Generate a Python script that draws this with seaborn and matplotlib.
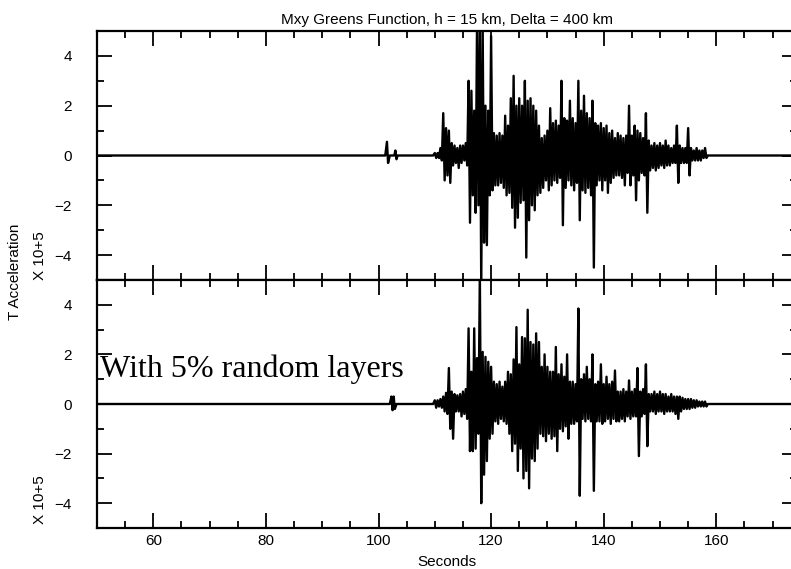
import numpy as np
import pandas as pd
import matplotlib.pyplot as plt
from matplotlib.ticker import MultipleLocator
import seaborn as sns

# Valori (ampiezza x 10^5), picchi alternati ogni 0.5 s
t_start, t_step = 110.0, 0.5

top_up = [0.1, 0.1, 0.3, 1.7, 1.1, 1.0, 0.5, 0.4, 0.3, 0.4,
          0.4, 0.5, 3.0, 2.6, 1.8, 5.3, 5.3, 5.3, 2.0, 1.8,
          4.8, 0.9, 0.8, 0.9, 0.8, 1.6, 1.2, 2.3, 3.2, 2.0,
          2.3, 2.0, 3.0, 2.2, 2.3, 2.0, 1.8, 1.2, 0.7, 0.8,
          1.0, 1.9, 1.3, 1.4, 1.2, 3.0, 1.5, 1.4, 2.2, 1.5,
          1.3, 3.0, 1.8, 2.4, 1.7, 1.5, 2.2, 1.3, 1.2, 1.3,
          1.1, 1.2, 0.9, 1.0, 0.7, 0.9, 0.8, 0.7, 0.8, 2.0,
          0.8, 1.2, 1.0, 0.9, 0.7, 1.7, 0.6, 0.4, 0.5, 0.4,
          0.5, 0.4, 0.6, 0.4, 0.3, 0.4, 1.2, 0.4, 0.3, 0.3,
          1.1, 0.3, 0.2, 0.3, 0.2, 0.2, 0.3]
top_dn = [-0.1, -0.1, -0.2, -1.0, -0.8, -1.1, -0.4, -0.3, -0.5, -0.3,
          -0.2, -0.4, -2.7, -1.6, -2.3, -2.0, -5.3, -3.5, -3.6, -1.6,
          -1.4, -1.2, -1.2, -1.1, -1.3, -1.6, -1.5, -2.1, -2.9, -2.5,
          -1.9, -1.8, -4.1, -2.6, -2.0, -2.2, -1.6, -1.5, -1.3, -1.0,
          -1.4, -1.2, -1.0, -1.1, -0.9, -2.8, -1.3, -1.0, -1.2, -1.4,
          -1.1, -2.6, -1.4, -1.5, -1.3, -1.6, -4.5, -1.2, -1.0, -1.4,
          -1.0, -1.5, -1.1, -0.9, -0.8, -0.8, -0.9, -1.2, -0.7, -1.2,
          -0.8, -1.8, -1.0, -0.7, -0.8, -2.3, -0.6, -0.5, -0.6, -0.5,
          -0.4, -0.5, -0.4, -0.4, -0.3, -0.3, -1.1, -0.3, -0.3, -0.3,
          -0.8, -0.2, -0.2, -0.2, -0.2, -0.1, -0.1]

bot_up = [0.15, 0.15, 0.2, 0.3, 0.45, 1.45, 0.5, 0.4, 0.35, 0.4,
          0.5, 0.6, 3.05, 1.3, 3.05, 1.85, 5.3, 2.1, 1.9, 1.7,
          1.5, 0.9, 0.8, 0.9, 0.7, 0.9, 1.3, 1.2, 1.8, 3.1,
          1.6, 2.7, 2.65, 3.8, 2.5, 2.4, 2.85, 2.5, 1.5, 2.0,
          1.5, 1.3, 1.3, 2.3, 1.2, 1.6, 1.1, 2.0, 0.9, 0.9,
          0.8, 3.85, 1.0, 1.2, 1.5, 1.0, 2.0, 0.8, 0.9, 1.6,
          0.8, 1.1, 0.8, 0.9, 1.35, 0.5, 0.5, 0.6, 0.5, 0.95,
          0.5, 0.6, 1.45, 0.5, 0.6, 1.6, 0.4, 0.4, 0.5, 0.4,
          0.5, 0.4, 0.4, 0.3, 0.4, 0.3, 0.3, 0.3, 0.25, 0.2,
          0.2, 0.2, 0.15, 0.15, 0.1, 0.1, 0.1]
bot_dn = [-0.15, -0.1, -0.15, -0.3, -0.4, -1.0, -1.4, -0.3, -0.3, -0.5,
          -0.4, -0.6, -1.9, -1.9, -1.8, -1.2, -4.0, -2.85, -2.3, -1.4,
          -1.2, -0.7, -0.8, -0.6, -0.7, -0.8, -1.2, -1.9, -1.6, -2.7,
          -1.8, -3.0, -2.7, -3.4, -2.2, -2.3, -1.8, -1.2, -1.3, -1.5,
          -1.2, -1.4, -1.3, -1.9, -1.0, -1.1, -0.9, -1.4, -0.8, -0.8,
          -0.7, -3.7, -0.6, -0.7, -0.6, -0.7, -3.5, -0.7, -0.7, -0.8,
          -0.7, -0.6, -0.8, -0.6, -0.7, -0.7, -0.6, -0.7, -0.5, -0.6,
          -0.5, -0.5, -2.1, -0.5, -0.4, -1.7, -0.3, -0.3, -0.4, -0.3,
          -0.3, -0.4, -0.3, -0.3, -0.3, -0.4, -0.6, -0.3, -0.2, -0.2,
          -0.2, -0.15, -0.15, -0.1, -0.1, -0.1, -0.1]

# tratti quieti prima e dopo l'arrivo
top_pre_t = [50.0, 101.2, 101.5, 101.7, 102.0, 102.8, 103.0, 103.2, 103.4, 109.7]
top_pre_v = [0.0, 0.0, 0.55, -0.3, 0.0, 0.0, 0.2, -0.15, 0.0, 0.0]
bot_pre_t = [50.0, 102.0, 102.3, 102.5, 102.7, 102.9, 103.2, 109.7]
bot_pre_v = [0.0, 0.0, 0.3, -0.25, 0.3, -0.2, 0.0, 0.0]
post_t = [158.5, 175.0]
post_v = [0.0, 0.0]


def build_trace(up, dn, pre_t, pre_v):
    t_up = t_start + t_step * np.arange(len(up))
    t_dn = t_up + t_step / 2
    t = np.column_stack([t_up, t_dn]).ravel()
    v = np.column_stack([up, dn]).ravel()
    return pd.DataFrame({
        't': np.concatenate([pre_t, t, post_t]),
        'v': np.concatenate([pre_v, v, post_v]),
    })


sns.set_style('ticks')
plt.rcParams['font.family'] = ['Liberation Sans', 'DejaVu Sans']
plt.rcParams['text.color'] = 'black'
plt.rcParams['axes.labelcolor'] = 'black'
plt.rcParams['xtick.color'] = 'black'
plt.rcParams['ytick.color'] = 'black'

fig = plt.figure(figsize=(7.91, 5.69), dpi=100)
ax1 = fig.add_axes([97 / 791, 1 - 280 / 569, 700 / 791, 249 / 569])
ax2 = fig.add_axes([97 / 791, 1 - 528 / 569, 700 / 791, 248 / 569])

traces = [build_trace(top_up, top_dn, top_pre_t, top_pre_v),
          build_trace(bot_up, bot_dn, bot_pre_t, bot_pre_v)]

for ax, df in zip([ax1, ax2], traces):
    sns.lineplot(data=df, x='t', y='v', ax=ax, sort=False, estimator=None,
                 color='black', lw=1.7)
    ax.set_xlim(50, 50 + 700 / 5.63)
    ax.set_ylim(-5, 5)
    ax.set_xticks(range(60, 161, 20))
    ax.xaxis.set_minor_locator(MultipleLocator(5))
    ax.set_yticks([-4, -2, 0, 2, 4])
    ax.yaxis.set_minor_locator(MultipleLocator(1))
    ax.tick_params(which='both', direction='in', top=True, right=True,
                   width=1.3, color='black', labelsize=11)
    ax.tick_params(which='major', length=11)
    ax.tick_params(which='minor', length=5)
    ax.tick_params(axis='y', pad=18)
    ax.tick_params(axis='x', pad=4)
    for s in ax.spines.values():
        s.set_linewidth(1.6)
        s.set_color('black')
    ax.set_xlabel('')
    ax.set_ylabel('')

ax1.tick_params(labelbottom=False)
ax1.set_title('Mxy Greens Function, h = 15 km, Delta = 400 km', fontsize=11, pad=5)
ax2.set_xlabel('Seconds', fontsize=11, labelpad=5)

ax2.text(50.5, 1.08, 'With 5% random layers', family='Liberation Serif',
         fontsize=23, va='baseline', ha='left')

fig.text(15 / 791, 1 - 272 / 569, 'T Acceleration', rotation=90, fontsize=11,
         ha='center', va='center')
fig.text(40 / 791, 1 - 256 / 569, 'X 10+5', rotation=90, fontsize=11,
         ha='center', va='center')
fig.text(40 / 791, 1 - 500 / 569, 'X 10+5', rotation=90, fontsize=11,
         ha='center', va='center')

fig.savefig('out.png', dpi=100, facecolor='white')
